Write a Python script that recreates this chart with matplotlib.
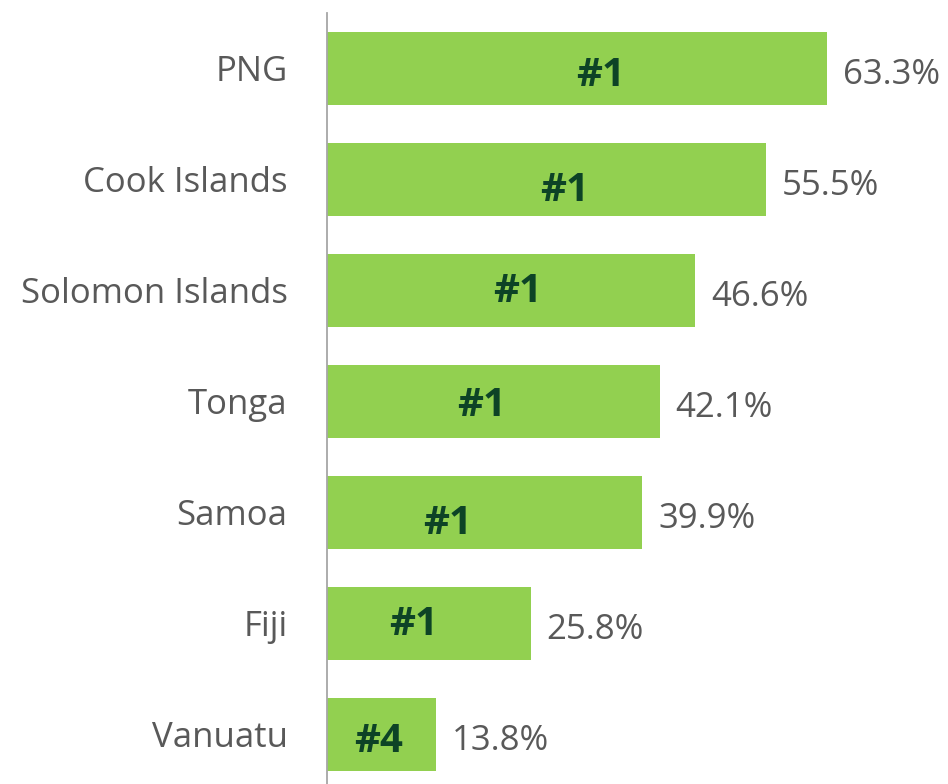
import matplotlib.pyplot as plt

# data
countries = ["PNG", "Cook Islands", "Solomon Islands", "Tonga", "Samoa", "Fiji", "Vanuatu"]
shares = [63.3, 55.5, 46.6, 42.1, 39.9, 25.8, 13.8]
ranks = ["#1", "#1", "#1", "#1", "#1", "#1", "#4"]

# layout tweaks for the rank labels (fraction of bar length, pixel shift down)
rank_frac = [0.548, 0.543, 0.519, 0.466, 0.384, 0.426, 0.477]
rank_dy = [3.7, 7.7, -2.3, 0.7, 7.2, -2.3, 3.7]

BAR = "#92D050"
TEXT = "#595959"
RANK = "#0D4326"
PX = 72 / 100  # points per pixel at dpi 100

plt.rcParams["font.family"] = ["Open Sans", "DejaVu Sans"]

fig = plt.figure(figsize=(9.48, 7.84), dpi=100)
ax = fig.add_axes([326.5 / 948, 0, 1 - 326.5 / 948, 1 - 13 / 784])

y = list(range(len(countries)))
ax.barh(y, shares, height=0.662, color=BAR, zorder=2)

ax.set_xlim(0, (948 - 326.5) / 7.91)
ax.set_ylim(6.448, -0.498)

for s in ["top", "right", "bottom"]:
    ax.spines[s].set_visible(False)
ax.spines["left"].set_color("#A6A6A6")
ax.spines["left"].set_linewidth(1.3)
ax.spines["left"].set_zorder(3)

ax.set_xticks([])
ax.set_yticks(y)
ax.set_yticklabels(countries, fontsize=25, color=TEXT)
ax.tick_params(axis="y", length=0, pad=28)

for i, (v, r) in enumerate(zip(shares, ranks)):
    ax.annotate(f"{v:.1f}%", (v, i), xytext=(16 * PX, -15.9 * PX),
                textcoords="offset points", ha="left", va="baseline",
                fontsize=25, color=TEXT)
    ax.annotate(r, (v * rank_frac[i], i), xytext=(0, -(rank_dy[i] + 14.5) * PX),
                textcoords="offset points", ha="center", va="baseline",
                fontsize=29, fontweight="bold", color=RANK)

fig.savefig("out.png", dpi=100)
